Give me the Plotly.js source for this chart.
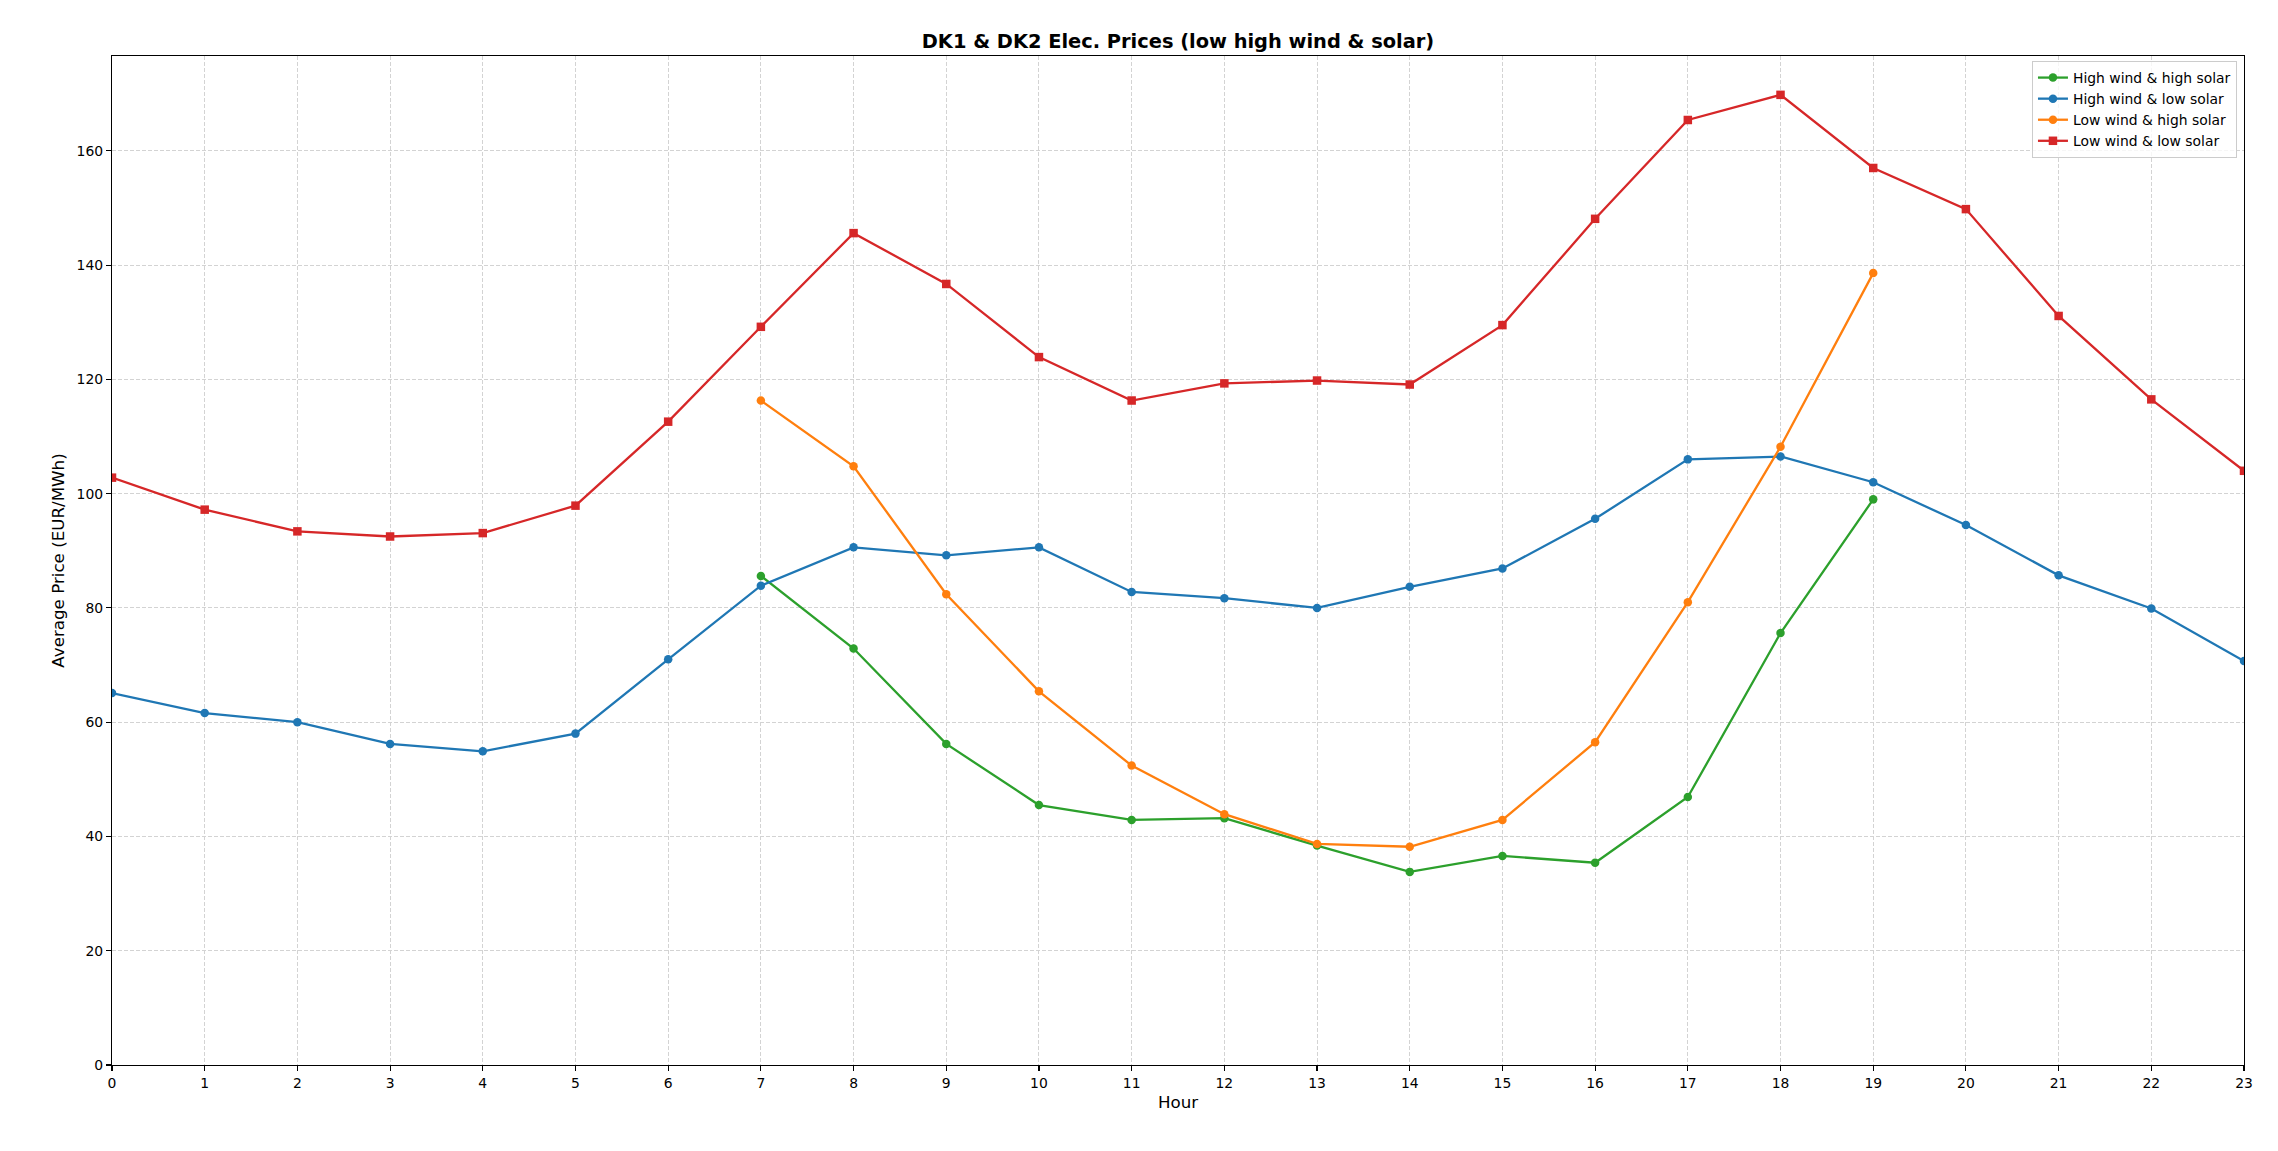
<!DOCTYPE html>
<html>
<head>
<meta charset="utf-8">
<script src="https://cdn.plot.ly/plotly-3.0.1.min.js"></script>
<style>html,body{margin:0;padding:0;background:#fff;}#chart{width:2278px;height:1151px;}</style>
</head>
<body>
<div id="chart"></div>
<script>
const hoursAll = [0,1,2,3,4,5,6,7,8,9,10,11,12,13,14,15,16,17,18,19,20,21,22,23];
const hoursMid = [7,8,9,10,11,12,13,14,15,16,17,18,19];

const highWindHighSolar = [85.6,72.9,56.2,45.5,42.9,43.2,38.4,33.8,36.6,35.4,46.9,75.6,99.0];
const highWindLowSolar = [65.1,61.6,60.0,56.2,54.9,58.0,71.0,83.9,90.6,89.2,90.6,82.8,81.7,80.0,83.7,86.9,95.6,106.0,106.5,102.0,94.5,85.7,79.9,70.7];
const lowWindHighSolar = [116.3,104.8,82.4,65.4,52.4,43.9,38.7,38.2,42.9,56.5,81.0,108.2,138.6];
const lowWindLowSolar = [102.8,97.2,93.4,92.5,93.1,97.9,112.6,129.2,145.6,136.7,123.9,116.3,119.3,119.8,119.1,129.5,148.1,165.4,169.8,157.0,149.8,131.1,116.5,104.0];

const seriesNames = ["High wind & high solar","High wind & low solar","Low wind & high solar","Low wind & low solar"];
const colors = ["#2ca02c","#1f77b4","#ff7f0e","#d62728"];

function tr(x, y, i, sym){
  return {x:x, y:y, name:seriesNames[i], type:"scatter", mode:"lines+markers",
    line:{color:colors[i], width:2.3},
    marker:{color:colors[i], size:8.5, symbol:sym, line:{width:0}}};
}
const data = [
  tr(hoursMid, highWindHighSolar, 0, "circle"),
  tr(hoursAll, highWindLowSolar, 1, "circle"),
  tr(hoursMid, lowWindHighSolar, 2, "circle"),
  tr(hoursAll, lowWindLowSolar, 3, "square")
];

const allVals = [].concat(highWindHighSolar, highWindLowSolar, lowWindHighSolar, lowWindLowSolar);
const vmax = Math.max.apply(null, allVals), vmin = Math.min.apply(null, allVals);
const ytop = vmax + 0.05*(vmax - vmin);

const font = {family:"DejaVu Sans, sans-serif", size:13.9, color:"#000"};
const gridStyle = {showgrid:true, gridcolor:"#d3d3d3", griddash:"4px,2px", gridwidth:1, zeroline:false};
const layout = {
  width:2278, height:1151,
  paper_bgcolor:"#fff", plot_bgcolor:"#fff",
  margin:{l:112, r:34, t:56, b:86, pad:0},
  font:font,
  showlegend:true,
  title:{text:"<b>DK1 & DK2 Elec. Prices (low high wind & solar)</b>", font:{family:"DejaVu Sans, sans-serif", size:19.4, color:"#000"},
    x:0.5, xref:"paper", xanchor:"center", y:1-41/1151, yref:"container", yanchor:"middle"},
  xaxis:Object.assign({range:[0,23], tickmode:"array", tickvals:hoursAll, ticktext:hoursAll.map(String),
    showline:true, mirror:true, linecolor:"#000", linewidth:1.1,
    ticks:"outside", ticklen:5, tickwidth:1.1, tickcolor:"#000",
    title:{text:"Hour", font:{size:16.7}, standoff:6}, automargin:false}, gridStyle),
  yaxis:Object.assign({range:[0,ytop], tickmode:"linear", tick0:0, dtick:20,
    showline:true, mirror:true, linecolor:"#000", linewidth:1.1,
    ticks:"outside", ticklen:5, tickwidth:1.1, tickcolor:"#000",
    title:{text:"Average Price (EUR/MWh)", font:{size:16.7}, standoff:7}, automargin:false}, gridStyle),
  legend:{x:0.9967, y:0.995, xanchor:"right", yanchor:"top", bgcolor:"rgba(255,255,255,0.8)",
    bordercolor:"#cccccc", borderwidth:1, font:{size:13.9}, tracegroupgap:0, itemwidth:30}
};
Plotly.newPlot("chart", data, layout, {displayModeBar:false, staticPlot:true});
</script>
</body>
</html>
